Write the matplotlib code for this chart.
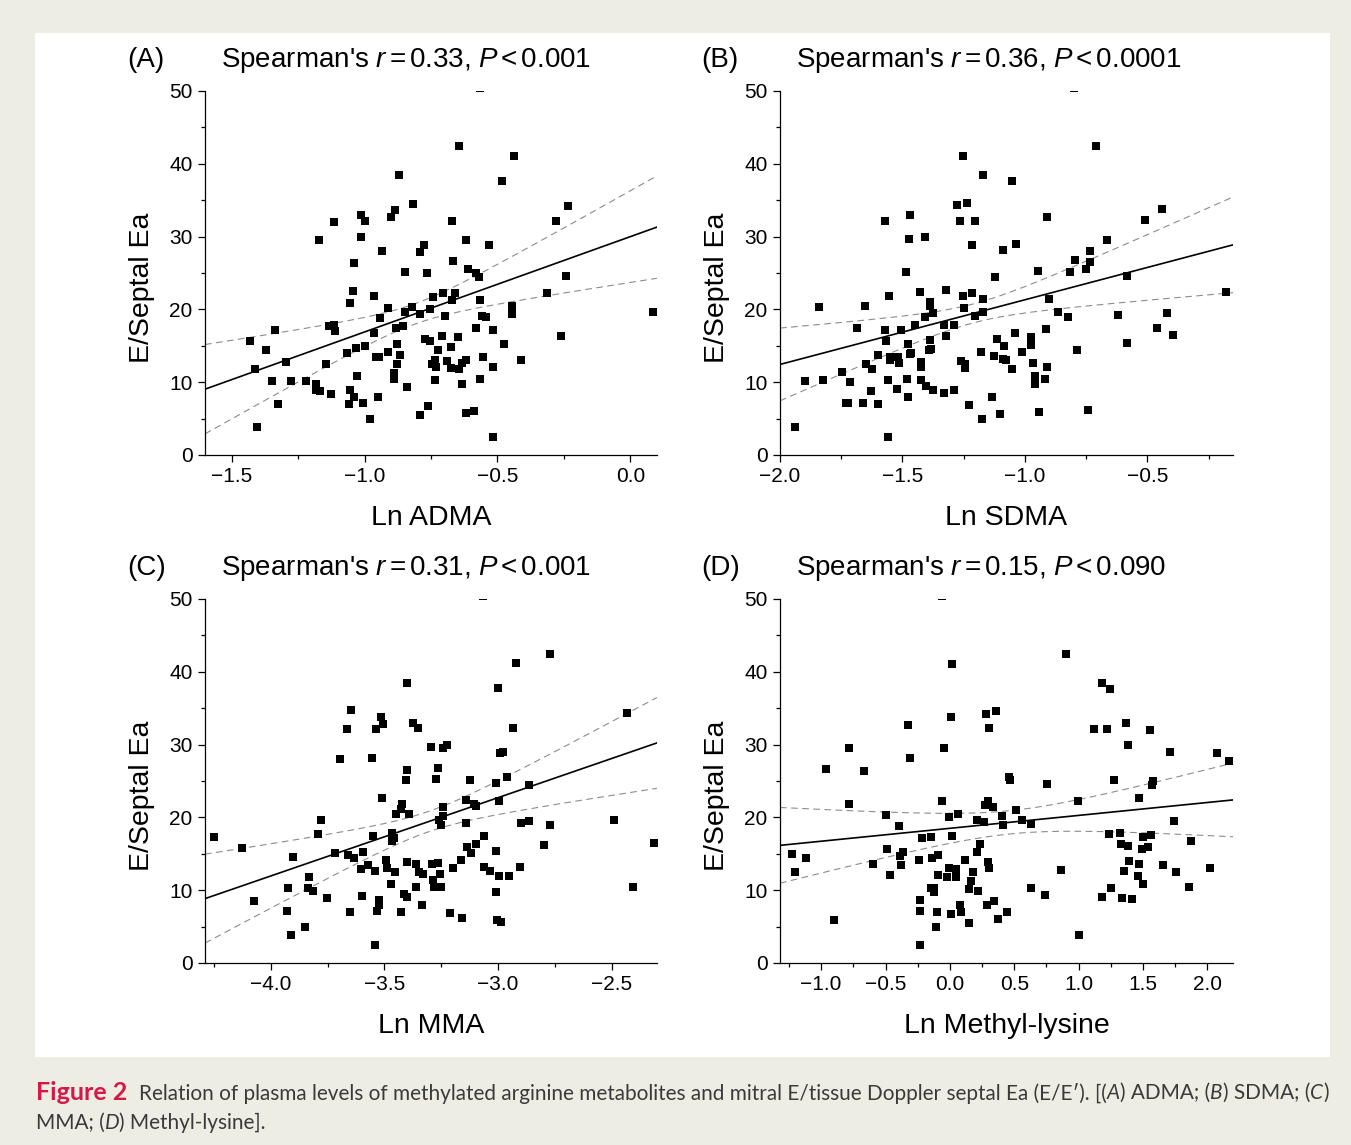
import numpy as np
import matplotlib
matplotlib.use("Agg")
import matplotlib.pyplot as plt
from matplotlib.ticker import MultipleLocator, FuncFormatter
from matplotlib.patches import Rectangle

plt.rcParams['font.family'] = ['Liberation Sans', 'DejaVu Sans']
plt.rcParams['mathtext.fontset'] = 'custom'
plt.rcParams['mathtext.rm'] = 'Liberation Sans'
plt.rcParams['mathtext.it'] = 'Liberation Sans:italic'

# ---- data: (ln metabolite, E/Septal Ea) ----
adma_pts = [(-0.565, 50.4), (-0.643, 42.4), (-0.436, 41.1), (-0.484, 37.7), (-0.87, 38.4), (-0.819, 34.5),
            (-0.884, 33.7), (-0.899, 32.7), (-1.014, 32.9), (-0.998, 32.1), (-1.115, 32.0), (-0.67, 32.2),
            (-0.236, 34.2), (-0.279, 32.2), (-1.171, 29.6), (-1.013, 29.9), (-0.936, 28.0), (-0.793, 27.9),
            (-0.775, 28.8), (-0.618, 29.5), (-0.533, 28.9), (-1.038, 26.4), (-0.849, 25.2), (-0.766, 25.0),
            (-0.669, 26.7), (-0.611, 25.5), (-0.58, 25.0), (-0.571, 24.4), (-0.241, 24.6), (-1.045, 22.5),
            (-1.054, 20.9), (-0.965, 21.8), (-0.91, 20.2), (-0.943, 18.8), (-0.849, 19.6), (-0.821, 20.3),
            (-0.793, 19.4), (-0.754, 20.1), (-0.741, 21.7), (-0.706, 22.3), (-0.658, 22.2), (-0.67, 21.3),
            (-0.698, 19.1), (-0.565, 21.3), (-0.558, 19.1), (-0.543, 19.0), (-0.445, 20.4), (-0.446, 19.4),
            (-0.314, 22.3), (0.086, 19.6), (-1.135, 17.7), (-1.113, 17.8), (-1.11, 17.1), (-1.335, 17.2),
            (-1.43, 15.7), (-1.37, 14.4), (-1.295, 12.8), (-1.412, 11.8), (-1.347, 10.2), (-1.276, 10.2),
            (-1.221, 10.2), (-1.181, 9.8), (-1.183, 8.9), (-1.166, 8.8), (-1.127, 8.4), (-1.324, 7.0),
            (-1.405, 3.8), (-1.146, 12.5), (-1.065, 14.0), (-1.031, 14.7), (-0.998, 15.0), (-0.965, 16.7),
            (-0.883, 17.5), (-0.855, 17.7), (-0.878, 15.2), (-0.913, 14.1), (-0.956, 13.5), (-0.944, 13.4),
            (-0.868, 13.8), (-0.876, 12.5), (-0.891, 11.3), (-0.891, 10.4), (-1.028, 10.8), (-1.054, 8.9),
            (-1.04, 8.0), (-1.06, 7.0), (-1.005, 7.2), (-0.948, 8.0), (-0.98, 4.9), (-0.841, 9.4),
            (-0.793, 5.5), (-0.761, 6.7), (-0.773, 15.9), (-0.754, 15.6), (-0.71, 16.4), (-0.724, 14.4),
            (-0.673, 14.9), (-0.65, 16.2), (-0.735, 13.1), (-0.748, 12.5), (-0.73, 12.1), (-0.691, 12.9),
            (-0.673, 11.9), (-0.645, 11.8), (-0.634, 12.7), (-0.619, 13.0), (-0.736, 10.3), (-0.633, 9.8),
            (-0.566, 10.4), (-0.619, 5.8), (-0.587, 6.1), (-0.58, 17.4), (-0.516, 17.2), (-0.554, 13.5),
            (-0.516, 12.1), (-0.474, 15.3), (-0.412, 13.1), (-0.516, 2.5), (-0.26, 16.4)]

sdma_pts = [(-0.8, 50.4), (-0.71, 42.4), (-1.254, 41.1), (-1.171, 38.5), (-1.052, 37.7), (-1.276, 34.3),
            (-1.238, 34.6), (-1.263, 32.2), (-1.204, 32.1), (-1.573, 32.1), (-1.469, 32.9), (-0.909, 32.7),
            (-0.51, 32.3), (-0.439, 33.8), (-1.473, 29.7), (-1.407, 30.0), (-1.214, 28.8), (-1.088, 28.1),
            (-1.038, 29.0), (-0.663, 29.5), (-0.797, 26.8), (-0.732, 28.0), (-0.733, 26.5), (-0.815, 25.1),
            (-0.75, 25.5), (-0.947, 25.3), (-1.486, 25.1), (-1.122, 24.5), (-0.581, 24.6), (-0.177, 22.4),
            (-1.842, 20.3), (-1.653, 20.4), (-1.554, 21.8), (-1.427, 22.4), (-1.324, 22.6), (-1.252, 21.9),
            (-1.215, 22.3), (-1.17, 21.4), (-1.386, 21.0), (-1.386, 20.4), (-1.377, 19.5), (-1.407, 18.9),
            (-1.249, 20.2), (-1.204, 19.1), (-1.171, 19.7), (-0.902, 21.4), (-0.864, 19.6), (-0.824, 19.0),
            (-0.619, 19.2), (-0.419, 19.5), (-1.686, 17.5), (-1.573, 17.2), (-1.505, 17.2), (-1.449, 17.8),
            (-1.332, 17.8), (-1.291, 17.9), (-1.321, 16.4), (-1.569, 15.7), (-1.478, 15.3), (-1.389, 15.8),
            (-1.385, 14.6), (-1.39, 14.4), (-1.601, 13.7), (-1.55, 13.4), (-1.55, 13.1), (-1.517, 13.4),
            (-1.513, 12.7), (-1.471, 13.9), (-1.463, 14.0), (-1.649, 12.5), (-1.623, 11.8), (-1.423, 12.8),
            (-1.423, 12.1), (-1.746, 11.4), (-1.716, 10.0), (-1.899, 10.2), (-1.823, 10.3), (-1.558, 10.3),
            (-1.482, 10.4), (-1.423, 10.3), (-1.405, 9.5), (-1.521, 9.1), (-1.627, 8.8), (-1.374, 8.9),
            (-1.331, 8.5), (-1.288, 8.9), (-1.478, 8.0), (-1.731, 7.1), (-1.721, 7.1), (-1.659, 7.2),
            (-1.601, 7.0), (-1.939, 3.8), (-1.559, 2.5), (-1.26, 12.9), (-1.246, 12.5), (-1.245, 11.9),
            (-1.227, 6.8), (-1.181, 14.1), (-1.176, 4.9), (-1.133, 8.0), (-1.113, 15.9), (-1.087, 15.0),
            (-1.125, 13.6), (-1.088, 13.2), (-1.075, 13.1), (-1.052, 11.8), (-1.103, 5.6), (-1.041, 16.7),
            (-1.012, 14.2), (-0.973, 16.2), (-0.976, 15.1), (-0.965, 12.7), (-0.959, 10.9), (-0.959, 9.8),
            (-0.914, 17.3), (-0.91, 12.1), (-0.916, 10.4), (-0.944, 5.9), (-0.789, 14.4), (-0.744, 6.2),
            (-0.582, 15.4), (-0.459, 17.4), (-0.397, 16.5)]

mma_pts = [(-3.065, 50.4), (-2.769, 42.5), (-2.919, 41.2), (-3.4, 38.5), (-2.999, 37.8), (-3.647, 34.7),
           (-3.515, 33.8), (-3.507, 32.8), (-3.663, 32.2), (-3.535, 32.1), (-3.376, 33.0), (-3.354, 32.3),
           (-2.935, 32.3), (-2.431, 34.3), (-3.694, 28.0), (-3.553, 28.2), (-3.293, 29.7), (-3.244, 29.6),
           (-3.225, 30.0), (-3.399, 26.5), (-3.266, 26.8), (-3.406, 25.2), (-3.275, 25.3), (-3.124, 25.1),
           (-3.01, 24.7), (-2.993, 28.9), (-2.976, 29.0), (-2.959, 25.5), (-2.862, 24.5), (-3.512, 22.6),
           (-3.422, 21.9), (-3.425, 21.2), (-3.45, 20.4), (-3.394, 20.4), (-3.24, 21.4), (-3.141, 22.4),
           (-3.096, 21.5), (-3.107, 21.8), (-2.994, 22.3), (-3.141, 19.2), (-3.26, 19.6), (-3.25, 18.9),
           (-3.244, 20.2), (-2.899, 19.2), (-2.865, 19.5), (-2.769, 19.0), (-2.488, 19.6), (-2.312, 16.5),
           (-2.404, 10.5), (-4.251, 17.3), (-4.126, 15.8), (-3.791, 17.7), (-3.779, 19.7), (-3.903, 14.5),
           (-3.716, 15.1), (-3.662, 14.8), (-3.635, 14.4), (-3.593, 15.3), (-3.549, 17.5), (-3.466, 17.9),
           (-3.456, 17.2), (-3.466, 16.8), (-3.494, 14.2), (-3.49, 13.0), (-3.543, 12.6), (-3.574, 13.4),
           (-3.603, 12.9), (-3.453, 12.5), (-3.4, 13.9), (-3.363, 13.6), (-3.346, 12.5), (-3.332, 12.2),
           (-3.291, 13.6), (-3.266, 13.8), (-3.257, 12.2), (-3.288, 11.4), (-3.281, 10.5), (-3.249, 10.4),
           (-3.2, 13.1), (-3.163, 14.2), (-3.138, 16.0), (-3.099, 16.4), (-3.118, 15.1), (-3.06, 17.4),
           (-3.06, 13.2), (-3.034, 12.7), (-3.007, 15.4), (-2.997, 12.0), (-3.007, 9.8), (-2.95, 11.9),
           (-2.904, 13.2), (-2.797, 16.2), (-3.834, 11.8), (-3.838, 10.3), (-3.813, 9.9), (-3.925, 10.3),
           (-3.753, 8.9), (-4.076, 8.5), (-3.928, 7.1), (-3.851, 4.9), (-3.913, 3.9), (-3.543, 2.5),
           (-3.651, 7.0), (-3.599, 9.2), (-3.522, 8.7), (-3.524, 8.0), (-3.532, 7.2), (-3.472, 10.9),
           (-3.415, 9.5), (-3.4, 9.0), (-3.428, 7.0), (-3.36, 10.4), (-3.335, 8.0), (-3.21, 6.8),
           (-3.157, 6.2), (-3.003, 5.9), (-2.985, 5.6)]

mlys_pts = [(-0.062, 50.4), (0.904, 42.4), (0.015, 41.1), (1.181, 38.5), (1.241, 37.7), (0.005, 33.8),
            (0.278, 34.2), (0.36, 34.6), (0.304, 32.3), (-0.327, 32.7), (1.117, 32.1), (1.22, 32.2),
            (1.367, 32.9), (1.552, 32.0), (1.382, 29.9), (-0.785, 29.6), (-0.046, 29.5), (1.712, 29.0),
            (2.077, 28.8), (2.167, 27.8), (-0.963, 26.7), (-0.664, 26.4), (-0.306, 28.1), (0.458, 25.5),
            (0.471, 25.1), (0.754, 24.6), (1.272, 25.2), (1.581, 25.0), (1.57, 24.5), (-0.785, 21.9),
            (-0.062, 22.2), (0.996, 22.3), (1.47, 22.6), (-0.494, 20.3), (-0.394, 18.8), (-0.008, 20.1),
            (0.062, 20.5), (0.013, 17.5), (-0.219, 17.2), (-0.149, 17.3), (0.27, 21.7), (0.296, 22.3),
            (0.332, 21.4), (0.407, 20.2), (0.517, 21.0), (0.214, 19.6), (0.265, 19.3), (0.409, 18.9),
            (0.559, 19.7), (0.631, 19.1), (1.745, 19.5), (1.238, 17.7), (1.323, 17.8), (1.326, 16.4),
            (1.382, 16.1), (1.501, 17.3), (1.565, 17.6), (1.496, 15.6), (1.542, 16.0), (1.874, 16.7),
            (-1.223, 15.0), (-1.12, 14.4), (-1.202, 12.5), (-0.903, 5.9), (-0.595, 13.6), (-0.486, 15.7),
            (-0.466, 12.1), (-0.384, 14.7), (-0.363, 15.3), (-0.381, 13.4), (-0.237, 14.1), (-0.142, 14.4),
            (-0.095, 14.8), (-0.093, 12.1), (-0.008, 13.1), (0.044, 12.9), (-0.026, 11.8), (0.044, 11.8),
            (0.116, 14.1), (0.178, 12.5), (0.208, 15.2), (0.234, 16.4), (0.293, 13.9), (0.301, 13.1),
            (-0.149, 10.3), (-0.121, 10.3), (-0.121, 9.8), (-0.234, 8.7), (-0.234, 7.2), (-0.1, 7.0),
            (0.005, 6.7), (-0.106, 4.9), (-0.229, 2.5), (0.082, 8.0), (0.09, 7.0), (0.152, 5.5),
            (0.162, 11.2), (0.152, 10.2), (0.216, 9.9), (0.286, 7.9), (0.342, 8.5), (0.373, 6.1),
            (0.445, 7.0), (0.633, 10.3), (0.736, 9.4), (0.862, 12.8), (1.006, 3.8), (1.181, 9.1),
            (1.254, 10.3), (1.336, 8.9), (1.418, 8.8), (1.354, 12.7), (1.388, 14.0), (1.468, 13.6),
            (1.465, 11.9), (1.501, 10.8), (1.653, 13.4), (1.758, 12.5), (1.858, 10.4), (2.023, 13.0)]

# linear fit (intercept, slope) and 95% CI band (centre x, half-width at centre, growth)
fit_coefs = [(30.0, 13.1), (30.2, 8.88), (54.96, 10.75), (18.5, 1.773)]
band_params = [(-0.811, 1.4, 7.57), (-1.208, 1.3, 6.09), (-3.306, 1.4, 6.04), (0.467, 1.6, 2.77)]

panel_tags = ['(A)', '(B)', '(C)', '(D)']
spearman_r = ['0.33', '0.36', '0.31', '0.15']
p_text = ['0.001', '0.0001', '0.001', '0.090']
x_labels = ['Ln ADMA', 'Ln SDMA', 'Ln MMA', 'Ln Methyl-lysine']
x_limits = [(-1.6, 0.1), (-2.0, -0.15), (-4.29, -2.3), (-1.32, 2.2)]
all_pts = [adma_pts, sdma_pts, mma_pts, mlys_pts]

W, H = 1351, 1145
fig = plt.figure(figsize=(W / 100, H / 100), dpi=100)
fig.patch.set_facecolor('#eeede4')
fig.patches.append(Rectangle((35 / W, 1 - 1057 / H), 1295 / W, 1024 / H, transform=fig.transFigure,
                             facecolor='white', edgecolor='none', zorder=-5))

# axes boxes in pixels: left, top, right, bottom
boxes = [(205, 91, 657, 455), (780, 91, 1233, 455), (205, 599, 657, 963), (780, 599, 1233, 963)]

fmt = FuncFormatter(lambda v, p: ('%.1f' % v).replace('-', '\u2212'))

for i in range(4):
    l, t, r, b = boxes[i]
    ax = fig.add_axes([l / W, 1 - b / H, (r - l) / W, (b - t) / H])
    ax.set_zorder(2)
    ax.patch.set_alpha(0)
    pts = np.array(all_pts[i])
    ax.plot(pts[:, 0], pts[:, 1], 's', color='black', markersize=5.8, markeredgewidth=0, zorder=3)

    x0, x1 = x_limits[i]
    xs = np.linspace(x0, x1, 200)
    a, s = fit_coefs[i]
    yfit = a + s * xs
    xc, h0, k = band_params[i]
    half = np.sqrt(h0 ** 2 + (k * (xs - xc)) ** 2)
    ax.plot(xs, yfit, color='black', lw=1.2, zorder=2)
    ax.plot(xs, yfit + half, color='#8c8c8c', lw=0.8, ls=(0, (6, 4)), zorder=2)
    ax.plot(xs, yfit - half, color='#8c8c8c', lw=0.8, ls=(0, (6, 4)), zorder=2)

    ax.set_xlim(x0, x1)
    ax.set_ylim(0, 50)
    ax.xaxis.set_major_locator(MultipleLocator(0.5))
    ax.xaxis.set_minor_locator(MultipleLocator(0.25))
    ax.xaxis.set_major_formatter(fmt)
    ax.yaxis.set_major_locator(MultipleLocator(10))
    ax.yaxis.set_minor_locator(MultipleLocator(5))
    for sp in ['top', 'right']:
        ax.spines[sp].set_visible(False)
    for sp in ['left', 'bottom']:
        ax.spines[sp].set_linewidth(0.9)
    ax.tick_params(which='major', direction='out', length=5, width=0.9, labelsize=15, pad=4)
    ax.tick_params(which='minor', direction='out', length=3, width=0.9)

    ax.set_xlabel(x_labels[i], fontsize=20.5)
    ax.xaxis.set_label_coords(0.5, -0.172)
    ax.xaxis.label.set_va('center')
    ax.set_ylabel('E/Septal Ea', fontsize=20.5)
    ax.yaxis.set_label_coords(-0.14, 0.46)
    ax.yaxis.label.set_va('center')

    ax.text(-0.173, 1.085, panel_tags[i], transform=ax.transAxes, fontsize=20, va='center', ha='left')
    ax.text(0.036, 1.085, r"Spearman's $r\,$=$\,$%s, $P\,$<$\,$%s" % (spearman_r[i], p_text[i]),
            transform=ax.transAxes, fontsize=20, va='center', ha='left')

# caption with mixed styles
renderer = fig.canvas.get_renderer()
cap_font = ['Lato', 'DejaVu Sans']
cap_size = 14.95
space_px = 6


def put_runs(x_px, y_px, runs):
    for txt, style in runs:
        kw = dict(fontsize=cap_size, family=cap_font, color='#3a3a3a', va='center', ha='left')
        kw.update(style)
        if txt == ' ':
            x_px += space_px
            continue
        t = fig.text(x_px / W, 1 - y_px / H, txt, **kw)
        x_px += t.get_window_extent(renderer).width


it = {'style': 'italic'}
put_runs(36, 1093, [('Figure 2', {'color': '#d4184c', 'fontweight': 'bold', 'fontsize': 18}),
                    (' ', {}), (' ', {}),
                    ('Relation of plasma levels of methylated arginine metabolites and mitral E/tissue Doppler '
                     'septal Ea (E/E\u2032). [(', {}), ('A', it), (') ADMA; (', {}), ('B', it),
                    (') SDMA; (', {}), ('C', it), (')', {})])
put_runs(36, 1123, [('MMA; (', {}), ('D', it), (') Methyl-lysine].', {})])

fig.savefig('out.png', dpi=100, facecolor=fig.get_facecolor())
